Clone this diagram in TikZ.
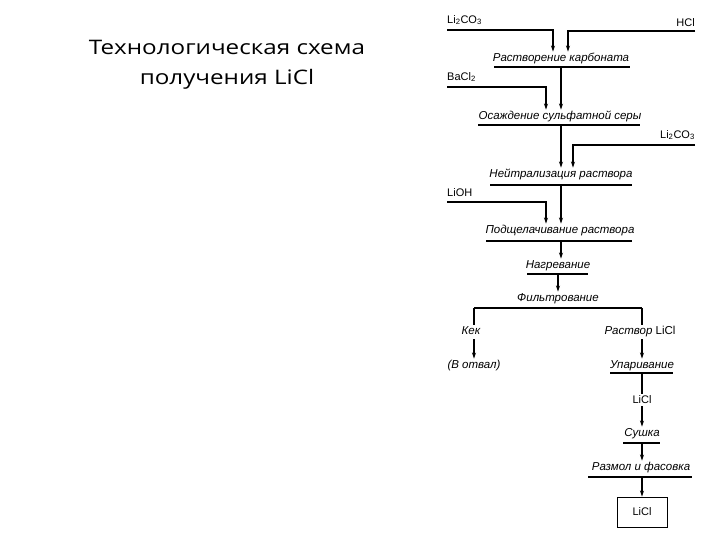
\documentclass[tikz,border=0pt]{standalone}
\usepackage{fontspec}
\setmainfont{Open Sans}
\newfontfamily\procfont{Liberation Sans}
\usetikzlibrary{arrows.meta}
\begin{document}
\begin{tikzpicture}[x=1pt,y=-1pt,
  title/.style={font=\fontsize{20}{30}\selectfont, align=center, inner sep=0pt},
  proc/.style={font=\procfont\itshape\fontsize{11.5}{13}\selectfont, inner xsep=0pt, inner ysep=2pt,
               text height=8pt, text depth=2.5pt},
  chem/.style={font=\procfont\fontsize{11}{13}\selectfont, inner sep=0pt},
  bar/.style={line width=2pt},
  flow/.style={line width=1.1pt},
  arr/.style={flow,-{Stealth[length=6pt,width=4pt]}}]
\useasboundingbox (0,0) rectangle (720,540);

% title
\node[title] (ttl) at (227,65) {\scalebox{1.21}[1]{Технологическая схема}\\\scalebox{1.21}[1]{получения LiCl}};

% process steps
\node[proc] (p1) at (561,59) {Растворение карбоната};
\node[proc] (p2) at (560,117) {Осаждение сульфатной серы};
\node[proc] (p3) at (561,175) {Нейтрализация раствора};
\node[proc] (p4) at (560,231) {Подщелачивание раствора};
\node[proc] (p5) at (558,266) {Нагревание};
\node[proc] (p6) at (558,299) {Фильтрование};
\node[proc] (k)  at (471,332) {Кек};
\node[proc] (o)  at (474,366) {(В отвал)};
\node[proc] (r)  at (640,332) {Раствор {\upshape LiCl}};
\node[proc] (u)  at (642,366) {Упаривание};
\node[chem, inner ysep=2pt] (l) at (642,400) {LiCl};
\node[proc] (s)  at (642,434) {Сушка};
\node[proc] (f)  at (641,468) {Размол и фасовка};
\node[draw, line width=0.9pt, minimum width=50pt, minimum height=30pt,
      font=\procfont\fontsize{11}{13}\selectfont] (box) at (642,512) {LiCl};

% underline bars
\draw[bar] (494,67) -- (630,67);
\draw[bar] (478,125) -- (640,125);
\draw[bar] (490,185) -- (632,185);
\draw[bar] (486,241) -- (632,241);
\draw[bar] (527,274) -- (588,274);
\draw[bar] (474,308) -- (642,308);
\draw[bar] (610,373) -- (673,373);
\draw[bar] (623,443) -- (660,443);
\draw[bar] (588,477) -- (692,477);
\coordinate (b1) at (561,67);
\coordinate (b2) at (561,125);
\coordinate (b3) at (561,185);
\coordinate (b4) at (561,241);
\coordinate (b5) at (558,274);
\coordinate (bl) at (474,308);
\coordinate (br) at (642,308);
\coordinate (bu) at (642,373);
\coordinate (bs) at (642,443);
\coordinate (bf) at (642,477);

% input labels
\node[chem, anchor=south west] (i1) at (447,25) {Li\textsubscript{2}CO\textsubscript{3}};
\node[chem, anchor=south east] (i2) at (695,27) {HCl};
\node[chem, anchor=south west] (i3) at (447,82) {BaCl\textsubscript{2}};
\node[chem, anchor=south east] (i4) at (695,140) {Li\textsubscript{2}CO\textsubscript{3}};
\node[chem, anchor=south west] (i5) at (447,197) {LiOH};

% input connectors
\draw[arr] ([yshift=-5pt]i1.south west) -| ([xshift=-8pt]p1.north);
\draw[arr] ([yshift=-4pt]i2.south east) -| ([xshift=7pt]p1.north);
\draw[arr] ([yshift=-5pt]i3.south west) -| ([xshift=-14pt]p2.north);
\draw[arr] ([yshift=-5pt]i4.south east) -| ([xshift=12pt]p3.north);
\draw[arr] ([yshift=-5pt]i5.south west) -| ([xshift=-14pt]p4.north);

% main flow
\draw[arr] (b1) -- (b1 |- p2.north);
\draw[arr] (b2) -- (b2 |- p3.north);
\draw[arr] (b3) -- (b3 |- p4.north);
\draw[arr] (b4) -- (b4 |- p5.north);
\draw[arr] (b5) -- (b5 |- p6.north);
\draw[flow] (bl) -- (bl |- k.north);
\draw[flow] (br) -- (br |- r.north);
\draw[arr] (k.south -| bl) -- (bl |- o.north);
\draw[arr] (r.south -| br) -- (br |- u.north);
\draw[flow] (bu) -- (l.north);
\draw[arr] (l.south) -- (bs |- s.north);
\draw[arr] (bs) -- (bs |- f.north);
\draw[arr] (bf) -- (box.north);
\end{tikzpicture}
\end{document}
